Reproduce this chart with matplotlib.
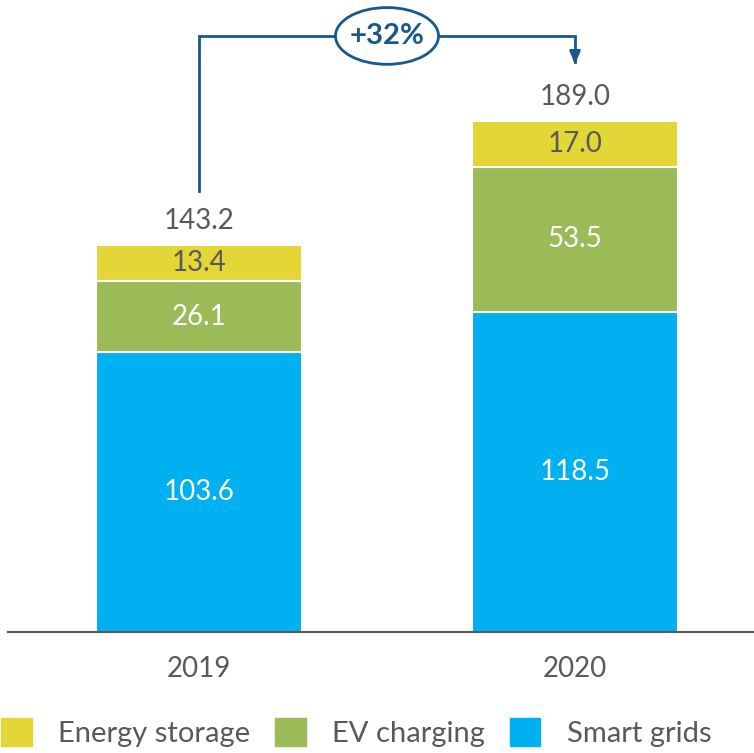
import matplotlib.pyplot as plt
from matplotlib.patches import Ellipse, Patch

plt.rcParams['font.family'] = ['Lato', 'DejaVu Sans']

years = ["2019", "2020"]
smart_grids = [103.6, 118.5]
ev_charging = [26.1, 53.5]
energy_storage = [13.4, 17.0]
totals = [143.2, 189.0]
growth_label = "+32%"

blue = "#00B0F0"
green = "#9BBB59"
yellow = "#E3D738"
grey = "#595959"
navy = "#17598C"

fig = plt.figure(figsize=(7.54, 7.53), dpi=100)
ax = fig.add_axes([8 / 754, 121 / 753, 746 / 754, 632 / 753])

x = range(len(years))
width = 0.548

bottom2 = [a + b for a, b in zip(smart_grids, ev_charging)]
ax.bar(x, smart_grids, width, color=blue, edgecolor="white", linewidth=1.5)
ax.bar(x, ev_charging, width, bottom=smart_grids, color=green, edgecolor="white", linewidth=1.5)
ax.bar(x, energy_storage, width, bottom=bottom2, color=yellow, edgecolor="white", linewidth=1.5)

fs = 20
for i in x:
    ax.text(i, smart_grids[i] / 2, f"{smart_grids[i]:.1f}", ha="center", va="center",
            color="white", fontsize=fs)
    ax.text(i, smart_grids[i] + ev_charging[i] / 2, f"{ev_charging[i]:.1f}", ha="center",
            va="center", color="white", fontsize=fs)
    ax.text(i, bottom2[i] + energy_storage[i] / 2, f"{energy_storage[i]:.1f}", ha="center",
            va="center", color=grey, fontsize=fs)
    ax.text(i, totals[i] + 9, f"{totals[i]:.1f}", ha="center", va="center",
            color=grey, fontsize=fs)

# growth arrow
top_y = 220.5
ax.plot([0, 0, 1, 1], [totals[0] + 20, top_y, top_y, 211], color=navy, lw=2,
        solid_joinstyle="miter")
ax.annotate("", xy=(1, 209), xytext=(1, 213),
            arrowprops=dict(arrowstyle="-|>,head_width=0.32,head_length=0.75",
                            color=navy, lw=2))
ax.add_patch(Ellipse((0.5, top_y), 0.274, 21, facecolor="white", edgecolor=navy,
                     lw=2, zorder=3))
ax.text(0.5, top_y, growth_label, ha="center", va="center", color=navy,
        fontsize=21, fontweight="bold", zorder=4)

ax.set_xlim(-0.508, 1.476)
ax.set_ylim(0, 233.8)
ax.set_xticks(list(x))
ax.set_xticklabels(years, fontsize=fs, color=grey)
ax.tick_params(axis="x", length=0, pad=17)
ax.set_yticks([])
for s in ["top", "right", "left"]:
    ax.spines[s].set_visible(False)
ax.spines["bottom"].set_color(grey)
ax.spines["bottom"].set_linewidth(1.5)

handles = [Patch(color=yellow, label="Energy storage"),
           Patch(color=green, label="EV charging"),
           Patch(color=blue, label="Smart grids")]
fig.legend(handles=handles, loc="lower left", bbox_to_anchor=(-0.002, 0.004), ncol=3,
           frameon=False, fontsize=21, handlelength=1.05, handleheight=1.1,
           handletextpad=0.9, columnspacing=0.85, borderpad=0.1, borderaxespad=0,
           labelcolor=grey)

fig.savefig("out.png", dpi=100)
